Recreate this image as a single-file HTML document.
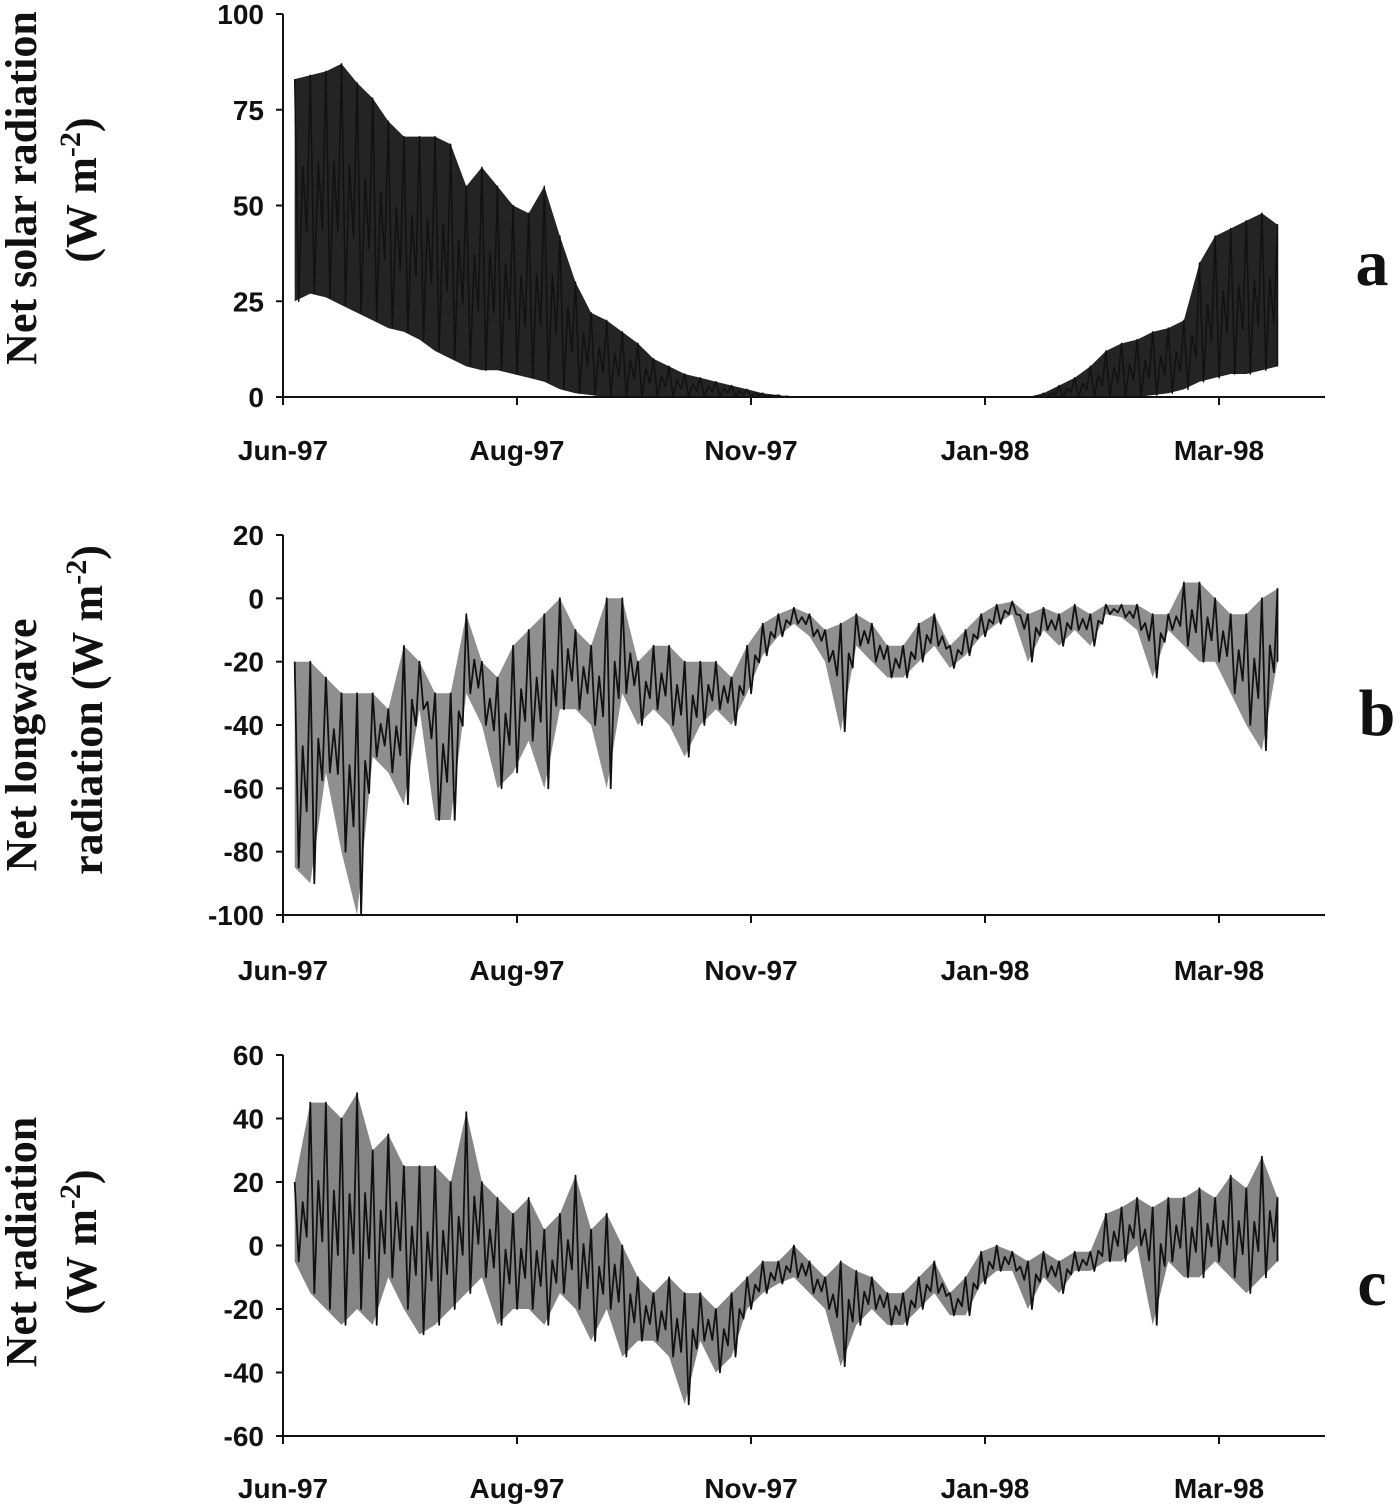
<!DOCTYPE html>
<html><head><meta charset="utf-8">
<style>
html,body{margin:0;padding:0;background:#fff;}
svg{display:block;}
.tick{font-family:"Liberation Sans",Arial,sans-serif;font-weight:bold;font-size:28px;fill:#111;}
.ttl{font-family:"Liberation Serif","Times New Roman",serif;font-weight:bold;font-size:44px;fill:#111;}
.let{font-family:"Liberation Serif","Times New Roman",serif;font-weight:bold;font-size:66px;fill:#111;}
</style></head>
<body>
<svg id="chart" width="1400" height="1508" viewBox="0 0 1400 1508" xmlns="http://www.w3.org/2000/svg"></svg>
<script>
// shared x categories (date tick labels) and sampling
const xTickLabels = ["Jun-97","Aug-97","Nov-97","Jan-98","Mar-98"];
const startDay = 3, stepDays = 4;

// panel a: net solar radiation
const solarHi = [83,84,85,87,82,78,72,68,68,68,66,55,60,55,50,48,55,42,30,22,20,17,14,10,8,6,5,4,3,2,1,0.5,0,0,0,0,0,0,0,0,0,0,0,0,0,0,0,0,1,3,5,8,12,14,15,17,18,20,35,42,44,46,48,45];
const solarLo = [25,27,26,24,22,20,18,17,15,12,10,8,7,7,6,5,4,2,1,0.5,0,0,0,0,0,0,0,0,0,0,0,0,0,0,0,0,0,0,0,0,0,0,0,0,0,0,0,0,0,0,0,0,0,0,0,0.5,1,2,4,5,6,6,7,8];
const solarTicks = [0,25,50,75,100];

// panel b: net longwave radiation
const lwHi = [-20,-20,-25,-30,-30,-30,-35,-15,-20,-30,-30,-5,-20,-25,-15,-10,-5,0,-10,-15,0,0,-20,-15,-15,-20,-20,-20,-25,-15,-8,-5,-3,-5,-10,-8,-5,-8,-15,-15,-8,-5,-15,-10,-5,-2,-1,-5,-3,-5,-2,-5,-2,-2,-2,-5,-5,5,5,0,-5,-5,0,3];
const lwLo = [-85,-90,-55,-80,-100,-50,-55,-65,-35,-70,-70,-30,-40,-60,-55,-45,-60,-35,-35,-40,-60,-30,-40,-35,-40,-50,-40,-35,-40,-30,-18,-12,-8,-12,-20,-42,-15,-20,-25,-25,-20,-15,-22,-18,-12,-8,-5,-20,-10,-15,-10,-15,-5,-6,-10,-25,-10,-15,-20,-20,-30,-40,-48,-20];
const lwTicks = [-100,-80,-60,-40,-20,0,20];

// panel c: net radiation
const netHi = [20,45,45,40,48,30,35,25,25,25,20,42,20,15,10,15,5,10,22,5,10,0,-10,-15,-10,-15,-15,-20,-15,-10,-5,-5,0,-5,-10,-5,-8,-10,-15,-15,-10,-5,-15,-10,-2,0,-2,-5,-2,-5,-2,-2,10,12,15,12,15,15,18,15,22,18,28,15];
const netLo = [-5,-15,-20,-25,-20,-25,-10,-20,-28,-25,-20,-15,-10,-25,-20,-20,-25,-15,-20,-30,-20,-35,-30,-30,-35,-50,-30,-40,-35,-20,-15,-12,-10,-15,-20,-38,-25,-20,-25,-25,-20,-15,-22,-22,-12,-8,-8,-20,-10,-15,-8,-8,-5,-5,0,-25,-5,-10,-10,-5,-10,-15,-10,-5];
const netTicks = [-60,-40,-20,0,20,40,60];

const NS = "http://www.w3.org/2000/svg";
const svg = document.getElementById("chart");
function mk(tag, attrs, parent){
  const e = document.createElementNS(NS, tag);
  for (const k in attrs) e.setAttribute(k, attrs[k]);
  (parent||svg).appendChild(e);
  return e;
}
const X0 = 283, PX_PER_DAY = 3.9;
function xScale(day){ return X0 + day*PX_PER_DAY; }

function panel(cfg){
  const g = mk("g", {});
  
  
  const yS = v => cfg.yTop + (cfg.vMax - v) / (cfg.vMax - cfg.vMin) * (cfg.yBot - cfg.yTop);
  const ya = mk("line", {x1:X0, y1:cfg.yTop, x2:X0, y2:cfg.yBot, stroke:"#111", "stroke-width":2}, g);
  
  
  const xa = mk("line", {x1:X0, y1:cfg.xAxisY, x2:1325, y2:cfg.xAxisY, stroke:"#111", "stroke-width":2}, g);
  
  
  cfg.ticks.forEach(v => {
    const y = yS(v);
    mk("line", {x1:X0-7, y1:y, x2:X0, y2:y, stroke:"#111", "stroke-width":2}, g);
    const t = mk("text", {x:264, y:y+10, "text-anchor":"end", class:"tick"}, g);
    t.textContent = v;
    
    
  });
  xTickLabels.forEach((lab, i) => {
    const x = xScale(i*60);
    mk("line", {x1:x, y1:cfg.xAxisY, x2:x, y2:cfg.xAxisY+8, stroke:"#111", "stroke-width":2}, g);
    const t = mk("text", {x:x, y:cfg.labelY, "text-anchor":"middle", class:"tick"}, g);
    t.textContent = lab;
    
    
  });
  const hi = cfg.hi, lo = cfg.lo;
  let pts = [];
  hi.forEach((v,i)=>pts.push(xScale(startDay+i*stepDays).toFixed(1)+","+yS(v).toFixed(1)));
  for (let i=lo.length-1;i>=0;i--) pts.push(xScale(startDay+i*stepDays).toFixed(1)+","+yS(lo[i]).toFixed(1));
  const area = mk("polygon", {points:pts.join(" "), fill:cfg.fill, "fill-opacity":cfg.fillOp, stroke:"none"}, g);
  
  
  let zz = [];
  for (let i=0;i<hi.length;i++){
    const x = xScale(startDay+i*stepDays);
    zz.push(x.toFixed(1)+","+yS(hi[i]).toFixed(1));
    if (i+1>=hi.length) { zz.push(x.toFixed(1)+","+yS(lo[i]).toFixed(1)); break; }
    const nh = hi[i+1], nl = lo[i+1];
    zz.push((x+4).toFixed(1)+","+yS(lo[i]).toFixed(1));
    zz.push((x+8).toFixed(1)+","+yS((hi[i]*2+nh)/3*0.6+(lo[i]*2+nl)/3*0.4).toFixed(1));
    zz.push((x+12).toFixed(1)+","+yS((lo[i]+nl)/2*0.7+(hi[i]+nh)/2*0.3).toFixed(1));
  }
  const line = mk("polyline", {points:zz.join(" "), fill:"none", stroke:"#111", "stroke-width":cfg.sw, "stroke-linejoin":"round"}, g);
  
  
  return g;
}

panel({name:"panel-a-solar", yTop:14, yBot:397, vMin:0, vMax:100, xAxisY:397, labelY:460, ticks:solarTicks, hi:solarHi, lo:solarLo, fill:"#111", fillOp:0.92, sw:1.5});
panel({name:"panel-b-longwave", yTop:535, yBot:915, vMin:-100, vMax:20, xAxisY:915, labelY:980, ticks:lwTicks, hi:lwHi, lo:lwLo, fill:"#333", fillOp:0.55, sw:1.8});
panel({name:"panel-c-net", yTop:1055, yBot:1436, vMin:-60, vMax:60, xAxisY:1436, labelY:1498, ticks:netTicks, hi:netHi, lo:netLo, fill:"#333", fillOp:0.6, sw:1.8});
</script>
<script>
(function(){
  const NS="http://www.w3.org/2000/svg", svg=document.getElementById("chart");
  function txt(s, x, y, cls, rot, name){
    const t=document.createElementNS(NS,"text");
    t.setAttribute("x",x); t.setAttribute("y",y); t.setAttribute("class",cls);
    t.setAttribute("text-anchor","middle");
    if(rot) t.setAttribute("transform","rotate(-90 "+x+" "+y+")");
    t.innerHTML=s;
    
    
    svg.appendChild(t);
  }
  txt("Net solar radiation",36,188,"ttl",true,"y-axis-title-a");
  txt("(W m<tspan dy='-16' font-size='30'>-2</tspan><tspan dy='16'>)</tspan>",96,190,"ttl",true,"y-axis-unit-a");
  txt("Net longwave",36,745,"ttl",true,"y-axis-title-b");
  txt("radiation (W m<tspan dy='-16' font-size='30'>-2</tspan><tspan dy='16'>)</tspan>",102,710,"ttl",true,"y-axis-unit-b");
  txt("Net radiation",36,1242,"ttl",true,"y-axis-title-c");
  txt("(W m<tspan dy='-16' font-size='30'>-2</tspan><tspan dy='16'>)</tspan>",96,1242,"ttl",true,"y-axis-unit-c");
  txt("a",1372,285,"let",false,"panel-label-a");
  txt("b",1377,735,"let",false,"panel-label-b");
  txt("c",1372,1305,"let",false,"panel-label-c");
})();
</script>
</body></html>
